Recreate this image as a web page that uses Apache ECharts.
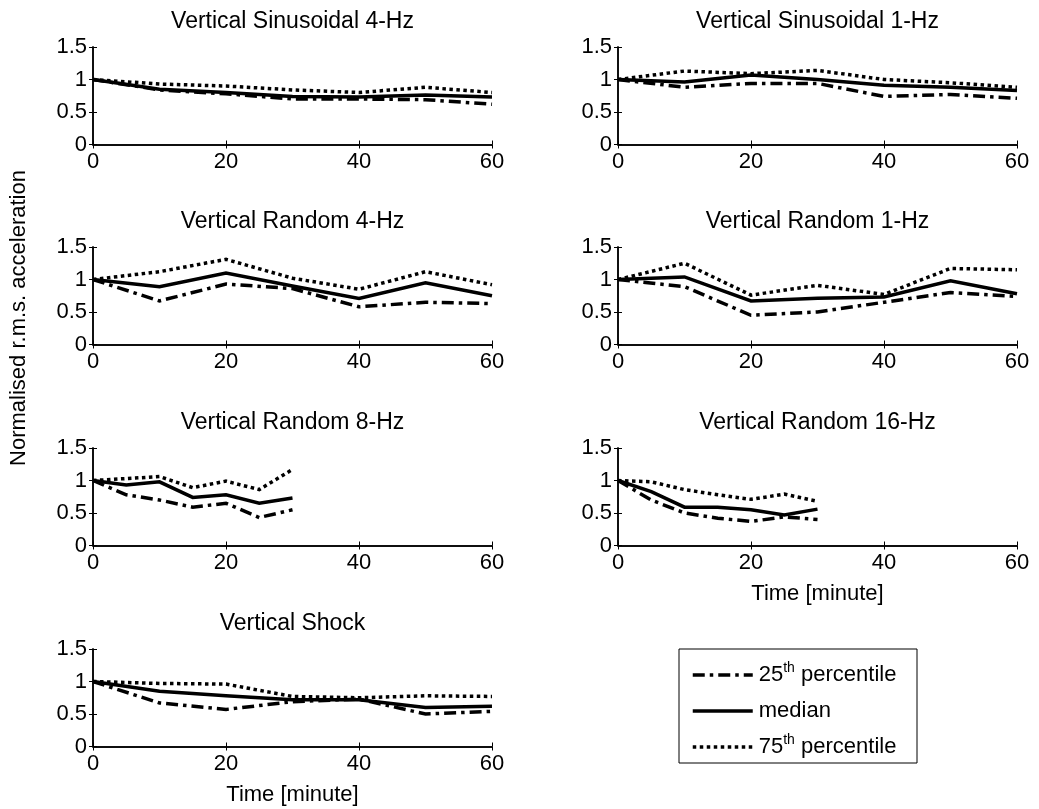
<!DOCTYPE html>
<html><head><meta charset="utf-8">
<script src="https://cdn.jsdelivr.net/npm/echarts@6/dist/echarts.min.js"></script>
<style>html,body{margin:0;padding:0;background:#fff}#c{width:1039px;height:809px}</style>
</head><body><div id="c"></div>
<script>
const timeFull = [0, 10, 20, 30, 40, 50, 60];
const timeHalf = [0, 5, 10, 15, 20, 25, 30];
const xTicks = [0, 20, 40, 60];
const yTicks = [0, 0.5, 1, 1.5];
const panelTitles = ['Vertical Sinusoidal 4-Hz', 'Vertical Sinusoidal 1-Hz', 'Vertical Random 4-Hz', 'Vertical Random 1-Hz', 'Vertical Random 8-Hz', 'Vertical Random 16-Hz', 'Vertical Shock'];
const seriesNames = ['25th percentile', 'median', '75th percentile'];

const sin4_p25 = [1, 0.84, 0.78, 0.70, 0.70, 0.69, 0.62];
const sin4_med = [1, 0.85, 0.80, 0.74, 0.73, 0.76, 0.73];
const sin4_p75 = [1, 0.93, 0.90, 0.84, 0.80, 0.88, 0.80];

const sin1_p25 = [1, 0.88, 0.94, 0.94, 0.74, 0.77, 0.71];
const sin1_med = [1, 0.96, 1.07, 1.00, 0.91, 0.88, 0.83];
const sin1_p75 = [1, 1.13, 1.09, 1.14, 1.00, 0.95, 0.88];

const r4_p25 = [1, 0.67, 0.93, 0.86, 0.58, 0.65, 0.63];
const r4_med = [1, 0.89, 1.10, 0.90, 0.71, 0.95, 0.75];
const r4_p75 = [1, 1.12, 1.31, 1.02, 0.85, 1.12, 0.92];

const r1_p25 = [1, 0.89, 0.45, 0.50, 0.65, 0.80, 0.74];
const r1_med = [1, 1.04, 0.67, 0.71, 0.73, 0.98, 0.78];
const r1_p75 = [1, 1.25, 0.76, 0.91, 0.77, 1.17, 1.15];

const r8_p25 = [1, 0.78, 0.70, 0.59, 0.65, 0.43, 0.55];
const r8_med = [1, 0.93, 0.98, 0.74, 0.78, 0.65, 0.73];
const r8_p75 = [1, 1.03, 1.06, 0.89, 0.99, 0.86, 1.17];

const r16_p25 = [1, 0.70, 0.50, 0.42, 0.37, 0.44, 0.40];
const r16_med = [1, 0.83, 0.59, 0.59, 0.55, 0.47, 0.56];
const r16_p75 = [1, 0.98, 0.86, 0.78, 0.71, 0.79, 0.68];

const shock_p25 = [1, 0.67, 0.57, 0.69, 0.73, 0.50, 0.54];
const shock_med = [1, 0.85, 0.78, 0.72, 0.72, 0.60, 0.62];
const shock_p75 = [1, 0.97, 0.96, 0.77, 0.75, 0.78, 0.77];

const panels = [
  { time: timeFull, lines: [sin4_p25, sin4_med, sin4_p75] },
  { time: timeFull, lines: [sin1_p25, sin1_med, sin1_p75] },
  { time: timeFull, lines: [r4_p25, r4_med, r4_p75] },
  { time: timeFull, lines: [r1_p25, r1_med, r1_p75] },
  { time: timeHalf, lines: [r8_p25, r8_med, r8_p75] },
  { time: timeHalf, lines: [r16_p25, r16_med, r16_p75] },
  { time: timeFull, lines: [shock_p25, shock_med, shock_p75] }
];

const FONT = "'Liberation Sans', Arial, sans-serif";
const FS = 22;
const FT = 23;
const colLeft = [93, 618];
const panelW = 399;
const rowTop = [47, 247, 448, 649];
const panelH = 97.5;
const LW = 3.5;
const dashTypes = [[12, 5, 3.5, 5], 'solid', [3.5, 3.5]];

const grids = [], xAxes = [], yAxes = [], series = [], graphics = [];
panels.forEach((p, i) => {
  const col = i % 2, row = Math.floor(i / 2);
  const left = colLeft[col], top = rowTop[row];
  grids.push({ left: left, top: top, width: panelW, height: panelH });
  const showName = (i === 5 || i === 6);
  const axLine = { show: true, lineStyle: { color: '#000', width: 1.5 } };
  const tick = { show: true, inside: true, length: 4, lineStyle: { color: '#000', width: 1 } };
  xAxes.push({ type: 'value', gridIndex: i, min: 0, max: 60, interval: 20, position: 'bottom',
    axisLine: axLine, axisTick: tick, splitLine: { show: false },
    axisLabel: { color: '#000', fontFamily: FONT, fontSize: FS, margin: 6, showMinLabel: true, showMaxLabel: true },
    name: showName ? 'Time [minute]' : '', nameLocation: 'middle', nameGap: 37,
    nameTextStyle: { color: '#000', fontFamily: FONT, fontSize: FS } });
  xAxes.push({ type: 'value', gridIndex: i, min: 0, max: 60, interval: 20, position: 'top',
    axisLine: axLine, axisTick: tick, splitLine: { show: false }, axisLabel: { show: false } });
  yAxes.push({ type: 'value', gridIndex: i, min: 0, max: 1.5, interval: 0.5, position: 'left',
    axisLine: axLine, axisTick: tick, splitLine: { show: false },
    axisLabel: { color: '#000', fontFamily: FONT, fontSize: FS, margin: 6, showMinLabel: true, showMaxLabel: true } });
  yAxes.push({ type: 'value', gridIndex: i, min: 0, max: 1.5, interval: 0.5, position: 'right',
    axisLine: axLine, axisTick: tick, splitLine: { show: false }, axisLabel: { show: false } });
  p.lines.forEach((vals, k) => {
    series.push({ type: 'line', name: seriesNames[k], xAxisIndex: 2 * i, yAxisIndex: 2 * i,
      data: p.time.map((t, j) => [t, vals[j]]), symbol: 'none', smooth: false, silent: true,
      color: '#000', lineStyle: { color: '#000', width: LW, type: dashTypes[k], cap: 'butt', join: 'miter' },
      z: 3 - k });
  });
  graphics.push({ type: 'text', x: left + panelW / 2, y: top - 25,
    style: { text: panelTitles[i], font: FT + 'px ' + FONT, fill: '#000', textAlign: 'center', textVerticalAlign: 'middle' } });
});

graphics.push({ type: 'text', x: 19, y: 318, rotation: Math.PI / 2,
  style: { text: 'Normalised r.m.s. acceleration', font: FS + 'px ' + FONT, fill: '#000', textAlign: 'center', textVerticalAlign: 'middle' } });
graphics.push({ type: 'rect', shape: { x: 679, y: 649, width: 238, height: 114 },
  style: { fill: '#fff', stroke: '#000', lineWidth: 1 }, z: -1 });

const supMap = { '25th percentile': '25{sup|th} percentile', 'median': 'median', '75th percentile': '75{sup|th} percentile' };

const option = {
  animation: false,
  grid: grids, xAxis: xAxes, yAxis: yAxes, series: series, graphic: graphics,
  legend: { data: seriesNames, orient: 'vertical', left: 691, top: 661, padding: 0, itemGap: 8,
    itemWidth: 60, itemHeight: 14, selectedMode: false,
    itemStyle: { opacity: 0, borderWidth: 0 },
    lineStyle: { width: LW },
    formatter: n => supMap[n],
    textStyle: { color: '#000', fontFamily: FONT, fontSize: FS, lineHeight: 28, padding: [0, 0, 0, 1],
      rich: { sup: { fontFamily: FONT, fontSize: 14, verticalAlign: 'top', padding: [0, 0, 10, 0], lineHeight: 28 } } } }
};
const chart = echarts.init(document.getElementById('c'), null, { renderer: 'canvas' });
chart.setOption(option);
</script></body></html>
